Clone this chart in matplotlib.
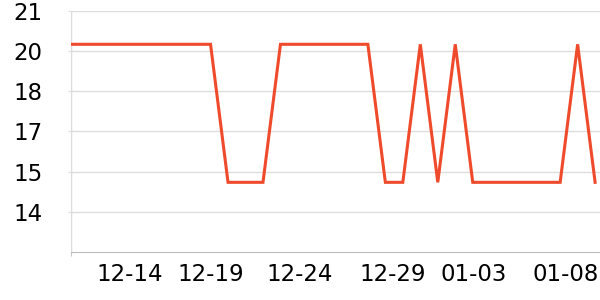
import matplotlib
matplotlib.use('Agg')
import matplotlib.pyplot as plt

# daily readings, 12-11 .. 01-10
dates = ['12-11', '12-12', '12-13', '12-14', '12-15', '12-16', '12-17', '12-18',
         '12-19', '12-20', '12-21', '12-22', '12-23', '12-24', '12-25', '12-26',
         '12-27', '12-28', '12-29', '12-30', '12-31', '01-01', '01-02', '01-03',
         '01-04', '01-05', '01-06', '01-07', '01-08', '01-09', '01-10']
hi, lo = 20.25, 15.1
values = [hi] * 9 + [lo] * 3 + [hi] * 6 + [lo] * 2 + [hi, lo, hi] + [lo] * 6 + [hi, lo]

x_labels = ['12-14', '12-19', '12-24', '12-29', '01-03', '01-08']
y_ticks = [14, 15.5, 17, 18.5, 20, 21.5]
y_labels = ['14', '15', '17', '18', '20', '21']

# where the vertical grid lines sit (in day index units)
grid_pos = [0, 5.3, 9.93, 14.99, 20.31, 24.98]
label_pos = grid_pos[1:] + [30.2]

grid_c = '#dddddd'

fig = plt.figure(figsize=(6, 3), dpi=100)
ax = fig.add_axes([70.7 / 600, 48 / 300, 1 - 70.7 / 600, 241.2 / 300])

x = list(range(len(dates)))
ax.plot(x, values, color='#ef4a2b', lw=2.2, solid_joinstyle='miter', zorder=3)

ax.set_xlim(0, 30.28)
ax.set_ylim(12.5, 21.5)

ax.set_yticks(y_ticks)
ax.set_yticklabels(y_labels)
ax.tick_params(axis='y', length=2.5, color=grid_c, pad=18, labelsize=16.5)
ax.yaxis.grid(True, color=grid_c, lw=1)

ax.set_xticks(label_pos)
ax.set_xticklabels(x_labels, ha='right')
ax.tick_params(axis='x', which='major', length=0, pad=8, labelsize=16.5)
ax.set_xticks(grid_pos, minor=True)
ax.tick_params(axis='x', which='minor', length=3, color='#bbbbbb')
ax.xaxis.grid(True, which='minor', color=grid_c, lw=1)

for s in ['top', 'right']:
    ax.spines[s].set_visible(False)
ax.spines['left'].set_color(grid_c)
ax.spines['bottom'].set_color('#bbbbbb')
ax.set_axisbelow(True)

fig.savefig('out.png', dpi=100)
